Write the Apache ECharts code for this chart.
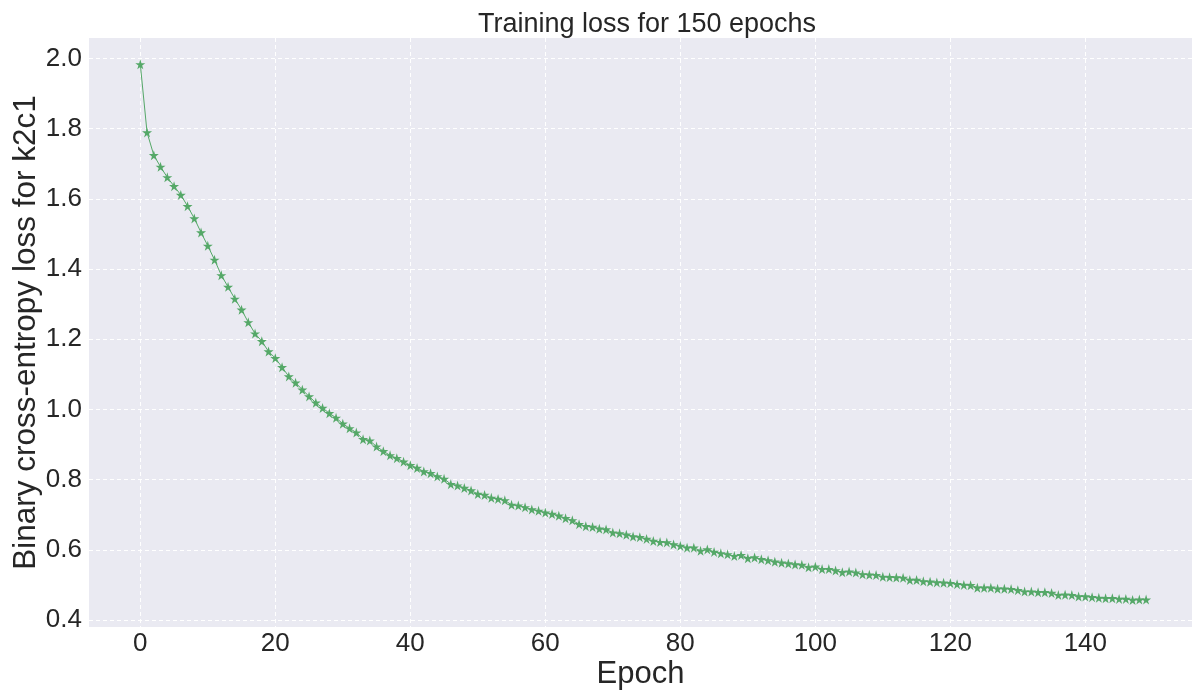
<!DOCTYPE html>
<html>
<head>
<meta charset="utf-8">
<script src="https://cdn.jsdelivr.net/npm/echarts@6/dist/echarts.min.js"></script>
<style>
  html, body { margin: 0; padding: 0; background: #fff; }
  #chart { width: 1192px; height: 695px; }
</style>
</head>
<body>
<div id="chart"></div>
<script>
// loss per epoch
var epochs = [];
for (var i = 0; i < 150; i++) epochs.push(i);

var loss = [
  1.983, 1.789, 1.724, 1.691, 1.661, 1.636, 1.611, 1.579, 1.544, 1.504,
  1.466, 1.426, 1.382, 1.349, 1.315, 1.284, 1.248, 1.216, 1.194, 1.165,
  1.146, 1.120, 1.094, 1.076, 1.056, 1.037, 1.019, 1.004, 0.989, 0.976,
  0.959, 0.946, 0.934, 0.915, 0.911, 0.894, 0.881, 0.869, 0.861, 0.851,
  0.841, 0.833, 0.823, 0.818, 0.809, 0.802, 0.787, 0.783, 0.776, 0.769,
  0.759, 0.756, 0.748, 0.745, 0.741, 0.728, 0.726, 0.721, 0.715, 0.711,
  0.706, 0.702, 0.697, 0.690, 0.684, 0.673, 0.667, 0.665, 0.660, 0.658,
  0.649, 0.647, 0.643, 0.638, 0.636, 0.631, 0.625, 0.622, 0.621, 0.615,
  0.611, 0.606, 0.606, 0.597, 0.601, 0.594, 0.590, 0.587, 0.582, 0.585,
  0.576, 0.578, 0.573, 0.570, 0.566, 0.563, 0.561, 0.558, 0.557, 0.550,
  0.552, 0.545, 0.545, 0.541, 0.536, 0.538, 0.535, 0.530, 0.529, 0.528,
  0.523, 0.522, 0.521, 0.520, 0.514, 0.514, 0.510, 0.509, 0.507, 0.506,
  0.505, 0.502, 0.500, 0.499, 0.492, 0.492, 0.492, 0.489, 0.489, 0.488,
  0.485, 0.481, 0.481, 0.479, 0.479, 0.477, 0.471, 0.472, 0.471, 0.467,
  0.467, 0.465, 0.463, 0.462, 0.462, 0.460, 0.460, 0.457, 0.458, 0.458
];

var xTicks = [0, 20, 40, 60, 80, 100, 120, 140];
var yTicks = [0.4, 0.6, 0.8, 1.0, 1.2, 1.4, 1.6, 1.8, 2.0];

var points = epochs.map(function (e, i) { return [e, loss[i]]; });

var star = 'path://M50,0 L61,35 L98,35 L68,57 L79,91 L50,70 L21,91 L32,57 L2,35 L39,35 Z';
var font = '"Liberation Sans", Arial, sans-serif';
var textColor = '#262626';

var myChart = echarts.init(document.getElementById('chart'), null, { renderer: 'canvas' });

var option = {
  animation: false,
  backgroundColor: '#ffffff',
  title: {
    text: 'Training loss for 150 epochs',
    left: 642,
    textAlign: 'center',
    top: 6,
    textStyle: { fontFamily: font, fontSize: 27, fontWeight: 'normal', color: textColor }
  },
  grid: {
    left: 89,
    right: 0,
    top: 38,
    bottom: 67,
    show: true,
    backgroundColor: '#EAEAF2',
    borderWidth: 0
  },
  xAxis: {
    type: 'value',
    min: -7.6,
    max: 155.8,
    name: 'Epoch',
    nameLocation: 'middle',
    nameGap: 32,
    nameMoveOverlap: false,
    nameTextStyle: { fontFamily: font, fontSize: 31, color: textColor, verticalAlign: 'top' },
    axisLine: { show: false },
    axisTick: { show: false, customValues: xTicks },
    axisLabel: {
      customValues: xTicks,
      margin: 4,
      fontFamily: font, fontSize: 26, color: textColor
    },
    splitLine: { show: true, lineStyle: { color: '#ffffff', width: 1, type: [4, 3] } }
  },
  yAxis: {
    type: 'value',
    min: 0.38,
    max: 2.058,
    name: 'Binary cross-entropy loss for k2c1',
    nameLocation: 'middle',
    nameGap: 47,
    nameMoveOverlap: false,
    nameTextStyle: { fontFamily: font, fontSize: 31.5, color: textColor },
    axisLine: { show: false },
    axisTick: { show: false, customValues: yTicks },
    axisLabel: {
      customValues: yTicks,
      margin: 7,
      formatter: function (v) { return v.toFixed(1); },
      fontFamily: font, fontSize: 26, color: textColor
    },
    splitLine: { show: true, lineStyle: { color: '#ffffff', width: 1, type: [4, 3] } }
  },
  series: [
    {
      type: 'line',
      data: points,
      symbol: star,
      symbolSize: 10,
      showAllSymbol: true,
      lineStyle: { color: '#55A868', width: 1 },
      itemStyle: { color: '#55A868' }
    }
  ]
};

myChart.setOption(option);
</script>
</body>
</html>
